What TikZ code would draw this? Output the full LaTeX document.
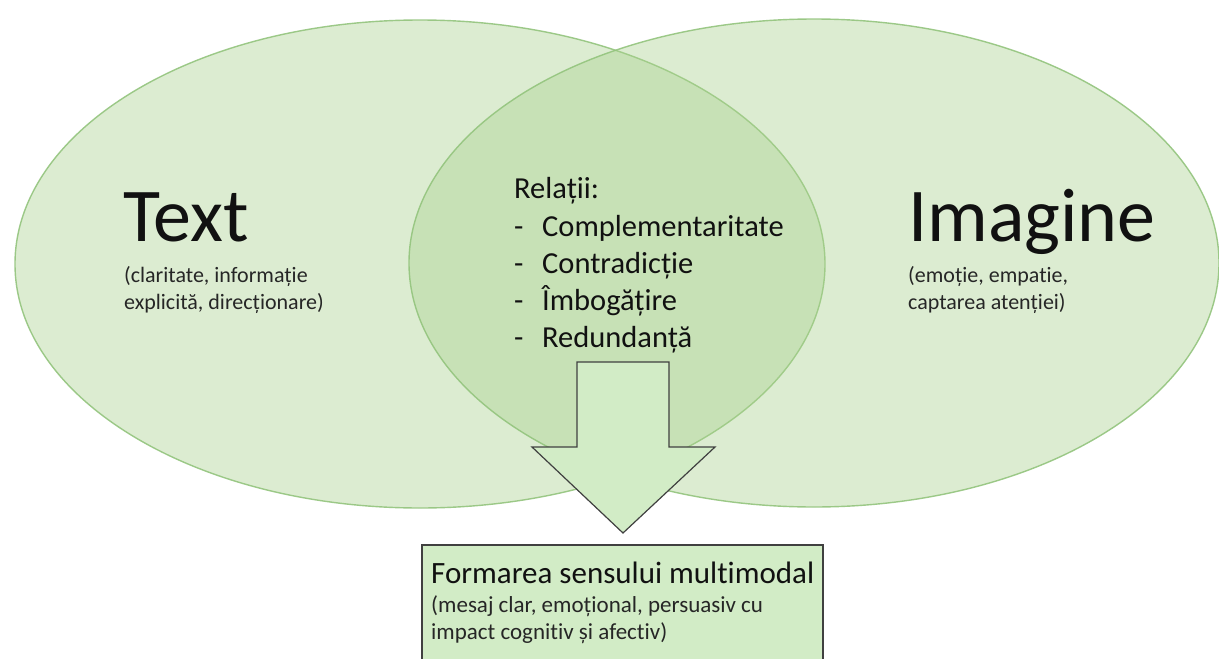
\documentclass[tikz,border=0pt]{standalone}
\usepackage{fontspec}
\setmainfont{Carlito}[Ligatures=NoCommon]
\definecolor{vennfill}{HTML}{A9D18E}
\definecolor{vennedge}{HTML}{93C47D}
\definecolor{blockfill}{HTML}{D2ECC6}
\definecolor{blockedge}{HTML}{404040}
\definecolor{ink}{HTML}{111111}
\definecolor{subink}{HTML}{262626}
\tikzset{
  venn/.style={fill=vennfill, fill opacity=0.4, draw=vennedge, draw opacity=0.9, line width=1.4pt},
  block/.style={fill=blockfill, draw=blockedge, line width=1.2pt, line join=miter},
  title/.style={anchor=base west, inner sep=0, text=ink, font=\fontsize{76}{82}\selectfont},
  note/.style={anchor=base west, inner sep=0, text=subink, font=\fontsize{22}{27}\selectfont},
  item/.style={anchor=base west, inner sep=0, text=ink, font=\fontsize{30.5}{37}\selectfont},
  boxtitle/.style={anchor=base west, inner sep=0, text=ink, font=\fontsize{31}{37}\selectfont},
  boxnote/.style={anchor=base west, inner sep=0, text=subink, font=\fontsize{23}{27}\selectfont}
}
\newcommand{\dashitem}[1]{\makebox[28pt][l]{-}#1}
\begin{document}
\begin{tikzpicture}[x=1pt, y=-1pt]
  \useasboundingbox (0,0) rectangle (1219,659);
  \fill[white] (0,0) rectangle (1219,659);

  % the two overlapping sets
  \draw[venn] (420,264) ellipse [x radius=405, y radius=244];
  \draw[venn] (814,263) ellipse [x radius=405, y radius=244];

  % block arrow from the overlap down to the result box
  \draw[block] (577,362) -- (669,362) -- (669,447) -- (715,447) -- (623,533)
               -- (532,447) -- (577,447) -- cycle;

  % result box (runs past the lower edge)
  \draw[block] (422,545) rectangle (823,662);

  % left set
  \node[title] (text) at (123,241) {Text};
  \node[note] (textn1) at (124,282) {(claritate, informa\char"021B ie};
  \node[note] (textn2) at (124,309) {explicit\u{a}, direc\char"021B ionare)};

  % right set
  \node[title] (img) at (908,241) {Imagine};
  \node[note] (imgn1) at (908,282) {(emo\char"021B ie, empatie,};
  \node[note] (imgn2) at (908,309) {captarea aten\char"021B iei)};

  % overlap: kinds of relation
  \node[item] (rel) at (514,198) {Rela\char"021B ii:};
  \node[item] (rel1) at (514,236) {\dashitem{Complementaritate}};
  \node[item] (rel2) at (514,273) {\dashitem{Contradic\char"021B ie}};
  \node[item] (rel3) at (514,310) {\dashitem{Îmbog\u{a}\char"021B ire}};
  \node[item] (rel4) at (514,347) {\dashitem{Redundan\char"021B\u{a}}};

  % result
  \node[boxtitle] (res) at (431,583) {Formarea sensului multimodal};
  \node[boxnote] (res1) at (431,612) {(mesaj clar, emo\char"021B ional, persuasiv cu};
  \node[boxnote] (res2) at (431,639) {impact cognitiv \char"0219 i afectiv)};
\end{tikzpicture}
\end{document}
